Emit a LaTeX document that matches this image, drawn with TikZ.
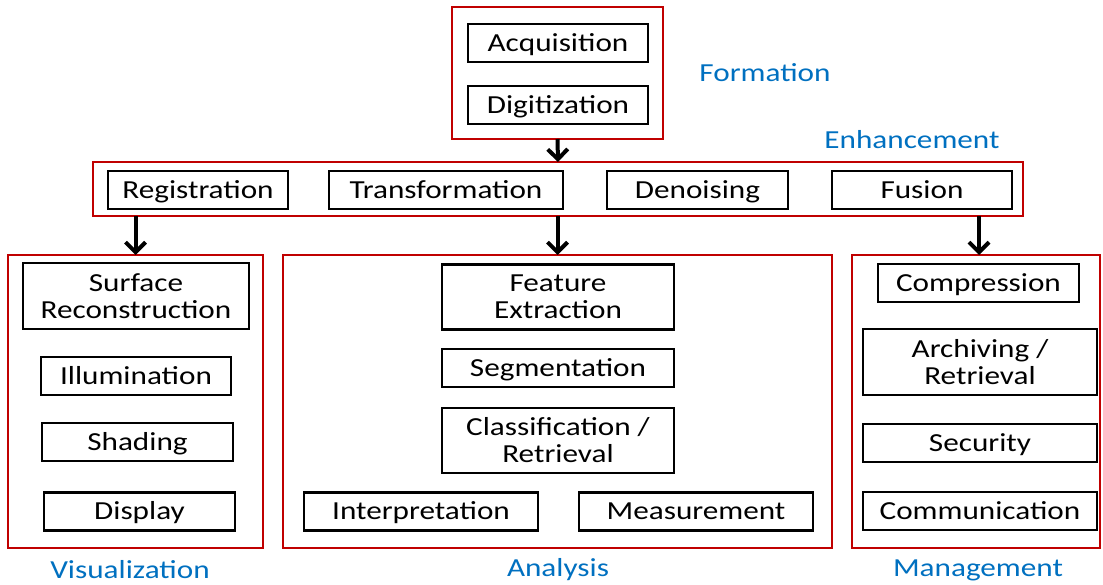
\documentclass[tikz,border=0pt]{standalone}
\usepackage{fontspec}
\setmainfont{Carlito}[FakeStretch=1.2]
\usetikzlibrary{arrows.meta}
\definecolor{frame}{RGB}{192,0,0}
\definecolor{caption}{RGB}{0,112,192}
\begin{document}
\begin{tikzpicture}[x=1pt,y=-1pt,
  every node/.style={font=\fontsize{26}{27}\selectfont, inner sep=0pt, outer sep=0pt},
  group/.style={draw=frame, line width=2.8pt, rectangle},
  item/.style={draw=black, line width=2.2pt, rectangle, align=center},
  oneline/.style={item, text height=21pt, text depth=4.3pt},
  stage/.style={text=caption},
  flow/.style={line width=4pt, -{Straight Barb[length=10pt,width=20pt,line width=4pt]}}
]
\path[use as bounding box] (0,0) rectangle (1103,585);

% Formation stage
\node[group, minimum width=211, minimum height=132] (formation) at (557.5,73) {};
\node[oneline, minimum width=180, minimum height=38] (acq) at (558,43) {Acquisition};
\node[oneline, minimum width=180, minimum height=38] (dig) at (558,105) {Digitization};
\node[stage] (formlbl) at (765,73) {Formation};

% Enhancement stage
\node[group, minimum width=930, minimum height=54] (enh) at (558,189) {};
\node[stage] (enhlbl) at (912,140) {Enhancement};
\node[oneline, minimum width=180, minimum height=38] (reg) at (198,190) {Registration};
\node[oneline, minimum width=234, minimum height=38] (trf) at (446,190) {Transformation};
\node[oneline, minimum width=181, minimum height=38] (den) at (697.5,190) {Denoising};
\node[oneline, minimum width=180, minimum height=38] (fus) at (922,190) {Fusion};

% Visualization stage
\node[group, minimum width=255, minimum height=293] (vis) at (135.5,401.5) {};
\node[item, minimum width=226, minimum height=66] (surf) at (136,296) {Surface\\Reconstruction};
\node[oneline, minimum width=190, minimum height=38] (ill) at (136,376) {Illumination};
\node[oneline, minimum width=191, minimum height=38] (shd) at (137.5,442) {Shading};
\node[oneline, minimum width=191, minimum height=38] (dsp) at (139.5,511.5) {Display};
\node[stage] (vislbl) at (130,570) {Visualization};

% Analysis stage
\node[group, minimum width=549, minimum height=293] (ana) at (557.5,401.5) {};
\node[item, minimum width=232, minimum height=65] (feat) at (558,297) {Feature\\Extraction};
\node[oneline, minimum width=232, minimum height=38] (seg) at (558,368) {Segmentation};
\node[item, minimum width=232, minimum height=65] (cls) at (558,440.5) {Classification /\\Retrieval};
\node[oneline, minimum width=234, minimum height=38] (intp) at (421,511.5) {Interpretation};
\node[oneline, minimum width=234, minimum height=38] (meas) at (696,511.5) {Measurement};
\node[stage] (analbl) at (558,570) {Analysis};

% Management stage
\node[group, minimum width=248, minimum height=293] (mgmt) at (976,401.5) {};
\node[oneline, minimum width=201, minimum height=38] (comp) at (978.5,283) {Compression};
\node[item, minimum width=234, minimum height=66] (arch) at (980,362) {Archiving /\\Retrieval};
\node[oneline, minimum width=234, minimum height=38] (sec) at (980,443) {Security};
\node[oneline, minimum width=234, minimum height=38] (comm) at (980,511) {Communication};
\node[stage] (mgmtlbl) at (978,570) {Management};

% Flow between the stages
\draw[flow] (formation.south) -- (enh.north);
\draw[flow] (vis.north |- enh.south) -- (vis.north);
\draw[flow] (ana.north |- enh.south) -- (ana.north);
\coordinate (mgmttop) at (979,255);
\draw[flow] (mgmttop |- enh.south) -- (mgmttop);
\end{tikzpicture}
\end{document}
